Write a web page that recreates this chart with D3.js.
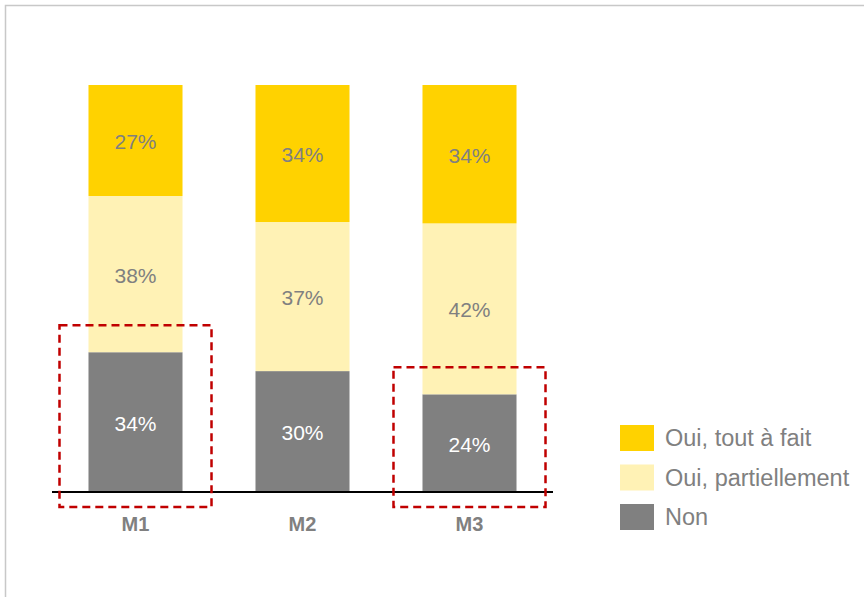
<!DOCTYPE html>
<html>
<head>
<meta charset="utf-8">
<script src="https://cdn.jsdelivr.net/npm/d3@7"></script>
<style>
	html, body { margin: 0; padding: 0; background: #fff; }
	svg { display: block; font-family: Arial, "Liberation Sans", sans-serif; }
</style>
</head>
<body>
<script>
const categories = ['M1', 'M2', 'M3'];
const seriesNames = ['Non', 'Oui, partiellement', 'Oui, tout à fait'];
const nonValues = [34, 30, 24];
const partielValues = [38, 37, 42];
const toutValues = [27, 34, 34];
const highlighted = ['M1', 'M3'];

const colors = {'Non': '#808080', 'Oui, partiellement': '#fff2b5', 'Oui, tout à fait': '#ffd200'},
	labelColors = {'Non': '#ffffff', 'Oui, partiellement': '#808080', 'Oui, tout à fait': '#808080'};

const width = 864, height = 597;

const rows = categories.map((c, i) => ({
	cat: c,
	'Non': nonValues[i],
	'Oui, partiellement': partielValues[i],
	'Oui, tout à fait': toutValues[i]
}));

const stacked = d3.stack()
	.keys(seriesNames)
	.offset(d3.stackOffsetExpand)(rows);

const x = d3.scaleBand()
	.domain(categories)
	.range([52, 553])
	.paddingInner(0.437)
	.paddingOuter(0.2185);

const y = d3.scaleLinear()
	.domain([0, 1])
	.range([492, 85]);

const svg = d3.select('body').append('svg')
	.attr('width', width)
	.attr('height', height);

// frame (only top and left edges show)
svg.append('rect')
	.attr('x', 5.5).attr('y', 5.5)
	.attr('width', width + 10).attr('height', height + 10)
	.attr('fill', 'none')
	.attr('stroke', '#c8c8c8')
	.attr('stroke-width', 1.5);

const segments = s => s.map((d, i) => ({key: s.key, d, raw: rows[i][s.key], cat: categories[i]}));

const layers = svg.selectAll('g.layer')
	.data(stacked)
	.enter()
	.append('g')
	.attr('class', 'layer');

layers.selectAll('rect')
	.data(segments)
	.enter()
	.append('rect')
	.attr('x', e => x(e.cat))
	.attr('width', x.bandwidth())
	.attr('y', e => y(e.d[1]))
	.attr('height', e => y(e.d[0]) - y(e.d[1]))
	.attr('fill', e => colors[e.key]);

layers.selectAll('text')
	.data(segments)
	.enter()
	.append('text')
	.attr('x', e => x(e.cat) + x.bandwidth() / 2)
	.attr('y', e => (y(e.d[0]) + y(e.d[1])) / 2 + 1)
	.attr('text-anchor', 'middle')
	.attr('dominant-baseline', 'central')
	.attr('font-size', 21)
	.attr('fill', e => labelColors[e.key])
	.text(e => `${e.raw}%`);

// baseline
svg.append('line')
	.attr('x1', x.range()[0]).attr('x2', x.range()[1])
	.attr('y1', y(0)).attr('y2', y(0))
	.attr('stroke', '#000')
	.attr('stroke-width', 2);

// category labels
svg.selectAll('text.cat')
	.data(categories)
	.enter()
	.append('text')
	.attr('class', 'cat')
	.attr('x', c => x(c) + x.bandwidth() / 2)
	.attr('y', 531)
	.attr('text-anchor', 'middle')
	.attr('font-size', 20)
	.attr('font-weight', 'bold')
	.attr('fill', '#808080')
	.text(c => c);

// dashed highlight boxes around "Non"
const nonLayer = stacked[0];
const boxTop = c => y(nonLayer[categories.indexOf(c)][1]) - 27;
svg.selectAll('rect.hl')
	.data(highlighted)
	.enter()
	.append('rect')
	.attr('class', 'hl')
	.attr('x', c => x(c) - 29)
	.attr('width', x.bandwidth() + 58)
	.attr('y', boxTop)
	.attr('height', c => y(0) + 15 - boxTop(c))
	.attr('fill', 'none')
	.attr('stroke', '#c00000')
	.attr('stroke-width', 2.5)
	.attr('stroke-dasharray', '8,5');

// legend
const legendOrder = ['Oui, tout à fait', 'Oui, partiellement', 'Non'];
const legend = svg.selectAll('g.legend')
	.data(legendOrder)
	.enter()
	.append('g')
	.attr('class', 'legend')
	.attr('transform', (_, i) => `translate(620,${425 + i * 39.5})`);

legend.append('rect')
	.attr('width', 34)
	.attr('height', 26)
	.attr('fill', k => colors[k]);

legend.append('text')
	.attr('x', 45)
	.attr('y', 13)
	.attr('dominant-baseline', 'central')
	.attr('font-size', 23.5)
	.attr('fill', '#808080')
	.text(k => k);
</script>
</body>
</html>
